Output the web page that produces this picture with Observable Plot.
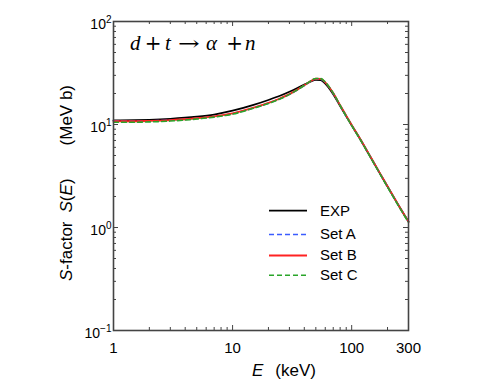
<!DOCTYPE html>
<html><head><meta charset="utf-8">
<script src="https://cdn.jsdelivr.net/npm/d3@7"></script>
<script src="https://cdn.jsdelivr.net/npm/@observablehq/plot@0.6"></script>
<style>
body{margin:0;background:#fff;}
#chart{position:absolute;left:0;top:0;}
</style></head><body><div id="chart"></div>
<script>
// ---- data ----
const energies = [1,1.5,2,3,5,7,10,15,20,25,30,35,40,45,50,55,60,70,80,90,100,120,140,170,200,250,300];
const sExp  = [10.95,11.0,11.1,11.35,11.9,12.5,13.6,15.5,17.3,19.0,20.8,22.6,24.4,26.0,27.2,27.0,25.0,19.7,15.1,12.0,9.8,6.95,5.1,3.45,2.5,1.61,1.14];
const sSetA = [10.85,10.8,10.85,11.0,11.45,11.95,12.75,14.5,16.1,17.8,19.6,21.7,23.9,26.2,27.6,27.5,25.5,20.1,15.3,12.1,9.85,6.98,5.12,3.46,2.5,1.61,1.14];
const sSetB = [10.8,10.75,10.85,11.05,11.5,12.0,12.8,14.6,16.2,17.9,19.7,21.8,24.0,26.3,27.8,27.7,25.7,20.2,15.4,12.2,9.9,7.0,5.13,3.47,2.51,1.61,1.14];
const sSetC = [10.5,10.5,10.6,10.8,11.3,11.8,12.6,14.4,16.0,17.7,19.6,21.7,24.0,26.4,28.0,27.9,25.8,20.2,15.3,12.0,9.78,6.92,5.06,3.42,2.47,1.59,1.12];
const seriesNames = ["EXP","Set A","Set B","Set C"];
const seriesValues = [sExp, sSetA, sSetB, sSetC];
const seriesColors = ["#000000","#3b5cff","#ff2222","#2aa52a"];
const seriesDash = [null,"5,3",null,"5,3"];
const xTickLabels = [1,10,100,300];
const yTickLabels = [0.1,1,10,100];
const xMajorTicks = [1,10,100];
const xMinorTicks = [2,3,4,5,6,7,8,9,20,30,40,50,60,70,80,90,200,300];
const yMajorTicks = [0.1,1,10,100];
const yMinorTicks = [0.2,0.3,0.4,0.5,0.6,0.7,0.8,0.9,2,3,4,5,6,7,8,9,20,30,40,50,60,70,80,90];

// ---- layout ----
const W = 485, H = 382, mL = 113, mR = 77, mT = 21, mB = 52;
const fw = W - mL - mR, fh = H - mT - mB;
const tickColor = "#444";

const lineMarks = seriesNames.map((name, k) =>
  Plot.line(energies.map((E, i) => ({E, S: seriesValues[k][i], name})), {
    x: "E", y: "S", stroke: seriesColors[k], strokeWidth: seriesDash[k] ? 1.6 : 1.8,
    strokeDasharray: seriesDash[k], curve: "monotone-x"
  })
);

const tickMarks = [
  Plot.tickX(xMajorTicks, {x: d => d, insetTop: fh - 5, stroke: tickColor}),
  Plot.tickX(xMajorTicks, {x: d => d, insetBottom: fh - 5, stroke: tickColor}),
  Plot.tickX(xMinorTicks, {x: d => d, insetTop: fh - 3, stroke: tickColor}),
  Plot.tickX(xMinorTicks, {x: d => d, insetBottom: fh - 3, stroke: tickColor}),
  Plot.tickY(yMajorTicks, {y: d => d, insetRight: fw - 5, stroke: tickColor}),
  Plot.tickY(yMajorTicks, {y: d => d, insetLeft: fw - 5, stroke: tickColor}),
  Plot.tickY(yMinorTicks, {y: d => d, insetRight: fw - 3, stroke: tickColor}),
  Plot.tickY(yMinorTicks, {y: d => d, insetLeft: fw - 3, stroke: tickColor})
];

const chart = Plot.plot({
  width: W, height: H,
  marginLeft: mL, marginRight: mR, marginTop: mT, marginBottom: mB,
  style: {fontFamily: "'Liberation Sans', Arial, sans-serif", fontSize: "15px", color: "#000", background: "#fff", overflow: "visible"},
  x: {type: "log", domain: [1, 300]},
  y: {type: "log", domain: [0.1, 100]},
  marks: [
    ...tickMarks,
    Plot.axisX({ticks: xTickLabels, tickSize: 0, tickPadding: 12, tickFormat: d => String(d), fontSize: 15, label: null}),
    Plot.axisY({ticks: yTickLabels, tickSize: 0, tickPadding: 2, tickFormat: d => "10^" + Math.round(Math.log10(d)), fontSize: 14, dy: 3, label: null}),
    ...lineMarks,
    Plot.frame({stroke: "#444", strokeWidth: 1.6})
  ]
});
document.getElementById("chart").appendChild(chart);

const svg = d3.select(chart);
// superscript exponents on y tick labels
svg.selectAll('g[aria-label="y-axis tick label"] text').each(function() {
  const t = d3.select(this);
  const [b, e] = t.text().split("^");
  t.text(null);
  t.append("tspan").text(b);
  t.append("tspan").attr("dy", -6).attr("font-size", 10).text(e.replace("-", "\u2212"));
});

// reaction title
const title = svg.append("g").attr("fill", "#000");
const titleParts = [
  {t: "d", x: 130, a: "start", i: true, s: 1},
  {t: "+", x: 153, a: "middle", i: false, s: 1},
  {t: "t", x: 165, a: "start", i: true, s: 1},
  {t: "\u2192", x: 189, a: "middle", i: false, s: 1.3},
  {t: "\u03b1", x: 206, a: "start", i: true, s: 1},
  {t: "+", x: 234.5, a: "middle", i: false, s: 1},
  {t: "n", x: 245, a: "start", i: true, s: 1}
];
titleParts.forEach(p => title.append("text")
  .attr("transform", `translate(${p.x},50) scale(${p.s},1)`)
  .attr("text-anchor", p.a)
  .attr("font-family", p.i ? "'Liberation Serif', 'Times New Roman', serif" : "'DejaVu Serif', serif")
  .attr("font-size", p.i ? 21 : 20)
  .attr("font-style", p.i ? "italic" : "normal").text(p.t));

// legend
const legRows = [210.7, 234.5, 255.5, 275.3];
const leg = svg.append("g");
seriesNames.forEach((name, k) => {
  leg.append("line").attr("x1", 269).attr("x2", 307).attr("y1", legRows[k]).attr("y2", legRows[k])
    .attr("stroke", seriesColors[k]).attr("stroke-width", seriesDash[k] ? 1.6 : 1.8)
    .attr("stroke-dasharray", seriesDash[k]);
  leg.append("text").attr("x", 320).attr("y", legRows[k] + 1).attr("dominant-baseline", "middle")
    .attr("text-anchor", "start").attr("font-size", 15).text(name);
});

// x axis label
const xl = svg.append("text").attr("x", 252).attr("y", 376).attr("font-size", 17).attr("text-anchor", "start");
xl.append("tspan").attr("font-style", "italic").text("E");
xl.append("tspan").attr("dx", 12).text("(keV)");

// y axis label
const yl = svg.append("text").attr("transform", "translate(72,281) rotate(-90)").attr("font-size", 17).attr("text-anchor", "start");
yl.append("tspan").attr("font-style", "italic").text("S");
yl.append("tspan").text("-factor");
yl.append("tspan").attr("dx", 9).attr("font-style", "italic").text("S");
yl.append("tspan").text("(");
yl.append("tspan").attr("font-style", "italic").text("E");
yl.append("tspan").text(")");
yl.append("tspan").attr("dx", 33).text("(MeV b)");
</script></body></html>
